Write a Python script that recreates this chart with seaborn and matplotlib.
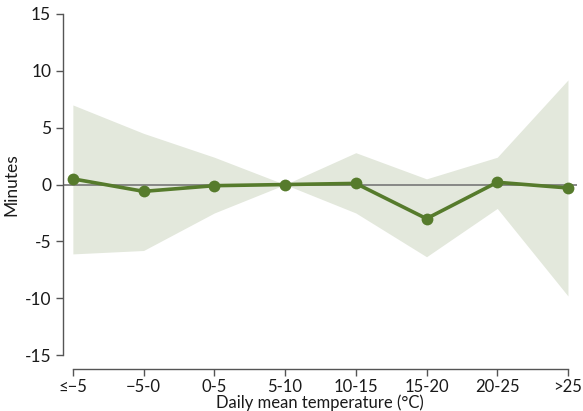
import matplotlib
matplotlib.use("Agg")
import matplotlib.pyplot as plt
import seaborn as sns
import pandas as pd
import numpy as np

categories = ["\u2264\u22125", "\u22125-0", "0-5", "5-10", "10-15", "15-20", "20-25", ">25"]
estimate = [0.5, -0.6, -0.1, 0.0, 0.1, -3.0, 0.2, -0.3]
ci_upper = [7.0, 4.5, 2.4, 0.0, 2.8, 0.5, 2.4, 9.2]
ci_lower = [-6.1, -5.8, -2.5, 0.0, -2.5, -6.35, -2.1, -9.8]
y_ticks = [-15, -10, -5, 0, 5, 10, 15]

line_color = "#567b2c"
band_color = "#e3e8dc"

sns.set_style("ticks")
plt.rcParams["font.family"] = ["Lato", "DejaVu Sans"]

df = pd.DataFrame({
    "pos": np.arange(len(categories)),
    "category": categories,
    "estimate": estimate,
    "lower": ci_lower,
    "upper": ci_upper,
})

fig = plt.figure(figsize=(5.83, 4.11), dpi=100)
ax = fig.add_axes([0.108, 0.136, 0.882, 0.83])

ax.fill_between(df["pos"], df["lower"], df["upper"], color=band_color, linewidth=0, zorder=1)
ax.axhline(0, color="#808080", linewidth=1.3, zorder=2)
sns.lineplot(data=df, x="pos", y="estimate", ax=ax, color=line_color, linewidth=2.6,
             marker="o", markersize=8.5, markeredgewidth=0, zorder=3)

ax.set_xlim(-0.14, 7.13)
ax.set_ylim(-15, 15)
ax.set_yticks(y_ticks)
ax.set_yticklabels([str(t) for t in y_ticks])
ax.set_xticks(df["pos"])
ax.set_xticklabels(categories)

sns.despine(ax=ax)
ax.spines["bottom"].set_position(("outward", 10))
ax.spines["bottom"].set_bounds(0, 7)
ax.spines["left"].set_bounds(-15, 15)
for s in ("left", "bottom"):
    ax.spines[s].set_color("#555555")
    ax.spines[s].set_linewidth(1.0)
ax.tick_params(axis="y", colors="#555555", labelcolor="#1a1a1a", labelsize=12.5, length=5, width=1.0)
ax.tick_params(axis="x", colors="#555555", labelcolor="#1a1a1a", labelsize=12, length=5, width=1.0, pad=2)

ax.set_xlabel("Daily mean temperature (\u00b0C)", fontsize=12, color="#1a1a1a", labelpad=0)
ax.set_ylabel("Minutes", fontsize=12.5, color="#1a1a1a", labelpad=4)

fig.savefig("out.png", dpi=100)
